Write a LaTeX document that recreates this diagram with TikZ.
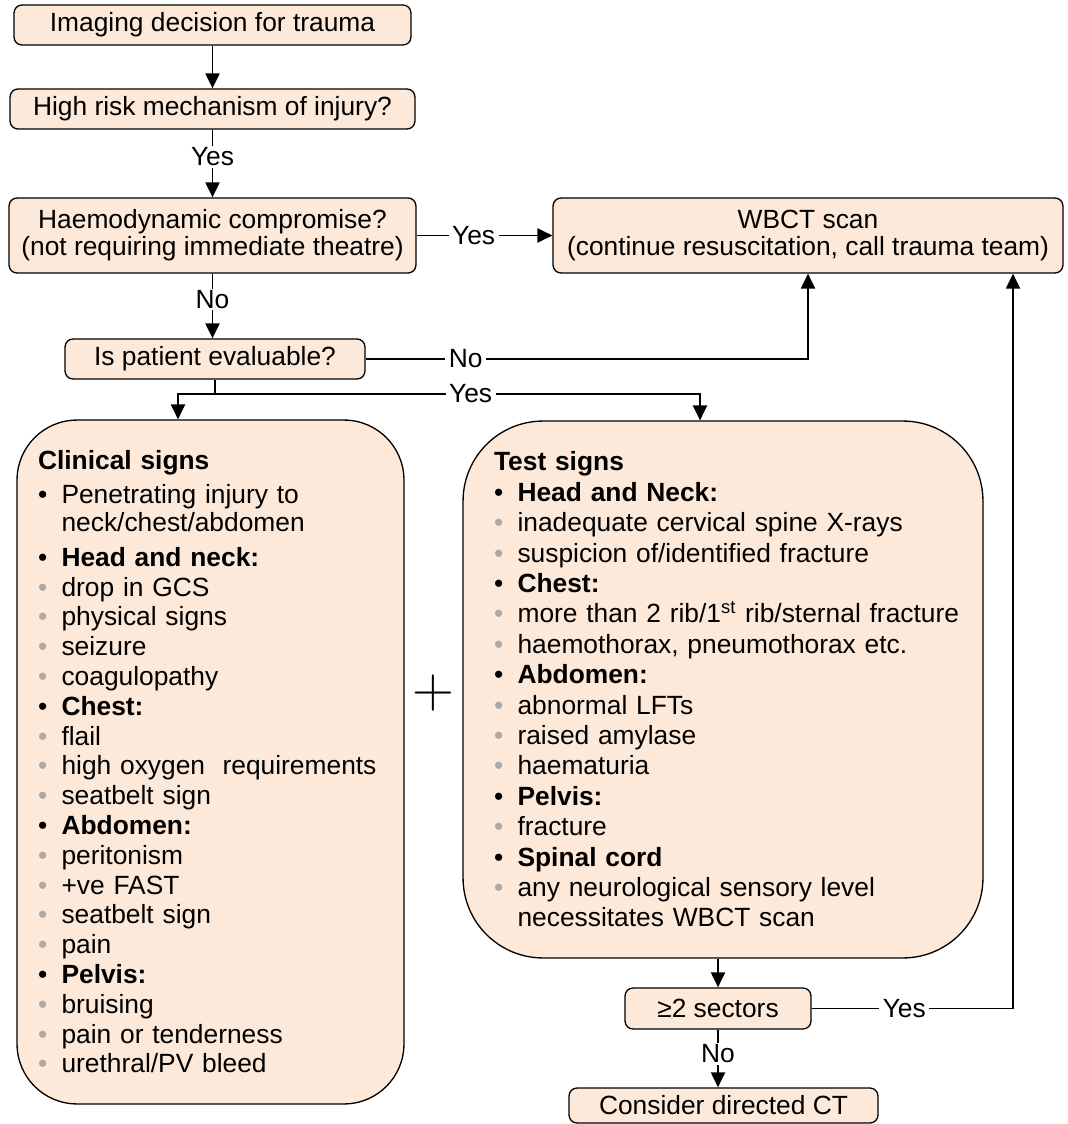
\documentclass[tikz,border=0pt]{standalone}
\usepackage{fontspec}
\setmainfont{Liberation Sans}
\usepackage{xcolor}
\usetikzlibrary{arrows.meta}

\definecolor{boxfill}{HTML}{FDE9D9}
\definecolor{dotgray}{RGB}{170,170,170}

% Macro cho các dòng danh sách
\newcommand{\hdg}[1]{\textbf{#1}}
\newcommand{\itm}[1]{\makebox[0.47cm][l]{\textbullet}\mbox{#1}}
\newcommand{\subitm}[1]{\makebox[0.47cm][l]{\textcolor{dotgray}{\textbullet}}\mbox{#1}}
\newcommand{\contln}[1]{\hspace*{0.47cm}\mbox{#1}}

\begin{document}
\begin{tikzpicture}[
            x=0.02cm, y=-0.02cm,
            % Style hộp nhỏ: góc bo nhẹ
            box/.style={
                draw=black,
                line width=0.75pt,
                fill=boxfill,
                rounded corners=0.16cm,
                align=center,
                inner sep=0pt,
                font=\fontsize{15}{15.4}\selectfont
            },
            % Style hộp lớn chứa danh sách
            bigbox/.style={
                draw=black,
                line width=0.75pt,
                fill=boxfill,
                align=left,
                inner ysep=0pt
            },
            % Style nhãn Yes/No trên đường nối
            lbl/.style={
                fill=white,
                inner xsep=2pt,
                inner ysep=1pt,
                font=\fontsize{15}{15.4}\selectfont
            },
            % Style mũi tên
            arr/.style={
                -{Triangle[length=8.5pt,width=8pt]},
                line width=1.05pt
            }
        ]
            \useasboundingbox (0,0) rectangle (1067,1124);

            % --- CỘT TRÁI: CÁC CÂU HỎI ---
            \node[box, minimum width=7.94cm, minimum height=0.8cm] (start) at (212.5,25) {Imaging decision for trauma};
            \node[box, minimum width=8.1cm, minimum height=0.8cm] (mech) at (212.5,109) {High risk mechanism of injury?};
            \node[box, minimum width=8.14cm, minimum height=1.5cm] (haemo) at (212.5,235.5) {Haemodynamic compromise?\\(not requiring immediate theatre)};
            \node[box, minimum width=10.2cm, minimum height=1.5cm] (wbct) at (808,235.5) {WBCT scan\\(continue resuscitation, call trauma team)};
            \node[box, minimum width=6cm, minimum height=0.8cm] (evalq) at (215,359) {Is patient evaluable?};

            % --- HAI HỘP DẤU HIỆU ---
            % Hộp dấu hiệu lâm sàng
            \node[bigbox, rounded corners=1.2cm, text width=6.9cm, inner xsep=0.42cm, minimum height=13.68cm,
                  font=\fontsize{15}{16.96}\selectfont] (clin) at (210.5,762) {%
                \hdg{Clinical signs}\\[2.3pt]
                \itm{Penetrating injury to}\\[-1.1pt]
                \contln{neck/chest/abdomen}\\[2.8pt]
                \itm{\hdg{Head and neck:}}\\
                \subitm{drop in GCS}\\
                \subitm{physical signs}\\
                \subitm{seizure}\\
                \subitm{coagulopathy}\\
                \itm{\hdg{Chest:}}\\
                \subitm{flail}\\
                \subitm{high oxygen\ \ requirements}\\
                \subitm{seatbelt sign}\\
                \itm{\hdg{Abdomen:}}\\
                \subitm{peritonism}\\
                \subitm{+ve FAST}\\
                \subitm{seatbelt sign}\\
                \subitm{pain}\\
                \itm{\hdg{Pelvis:}}\\
                \subitm{bruising}\\
                \subitm{pain or tenderness}\\
                \subitm{urethral/PV bleed}};

            \node[font=\fontfamily{lmr}\fontsize{33}{33}\selectfont, inner sep=0pt] (plus) at (433,693) {+};

            % Hộp dấu hiệu xét nghiệm
            \node[bigbox, rounded corners=1.6cm, text width=9.16cm, inner xsep=0.62cm, minimum height=10.74cm,
                  font=\fontsize{15}{17.3}\selectfont] (test) at (723,689.5) {%
                \hdg{Test signs}\\
                \itm{\hdg{Head and Neck:}}\\
                \subitm{inadequate cervical spine X-rays}\\
                \subitm{suspicion of/identified fracture}\\
                \itm{\hdg{Chest:}}\\
                \subitm{more than 2 rib/1\textsuperscript{st} rib/sternal fracture}\\
                \subitm{haemothorax, pneumothorax etc.}\\
                \itm{\hdg{Abdomen:}}\\
                \subitm{abnormal LFTs}\\
                \subitm{raised amylase}\\
                \subitm{haematuria}\\
                \itm{\hdg{Pelvis:}}\\
                \subitm{fracture}\\
                \itm{\hdg{Spinal cord}}\\
                \subitm{any neurological sensory level}\\
                \contln{necessitates WBCT scan}};

            % --- HAI HỘP DƯỚI CÙNG ---
            \node[box, minimum width=3.72cm, minimum height=0.82cm] (sectors) at (718,1008.5) {≥2 sectors};
            \node[box, minimum width=6.18cm, minimum height=0.7cm] (consider) at (723.5,1105.5) {Consider directed CT};

            % --- MŨI TÊN ---
            \coordinate (yes_l) at (178,394);
            \coordinate (yes_r) at (700,394);
            \coordinate (back_up) at (1013,0);

            \draw[arr] (start) -- (mech);
            \draw[arr] (mech) -- node[lbl, pos=0.4] {Yes} (haemo);
            \draw[arr] (haemo) -- node[lbl, pos=0.42] {Yes} (wbct);
            \draw[arr] (haemo) -- node[lbl, pos=0.4] {No} (haemo |- evalq.north);
            \draw[arr] (evalq.east) -| node[lbl, pos=0.113] {No} (wbct.south);

            % Nhánh Yes chia hai hộp
            \draw[arr] (evalq.south) |- (yes_l) -- (yes_l |- clin.north);
            \draw[arr] (evalq.south |- yes_r) -- node[lbl, pos=0.527] {Yes} (yes_r) -- (yes_r |- test.north);

            \draw[arr] (sectors.north |- test.south) -- (sectors.north);
            \draw[arr] (sectors.south) -- node[lbl, pos=0.42] {No} (sectors.south |- consider.north);
            \draw[arr] (sectors.east) -| node[lbl, pos=0.23] {Yes} (wbct.south -| back_up);

        \end{tikzpicture}
\end{document}
